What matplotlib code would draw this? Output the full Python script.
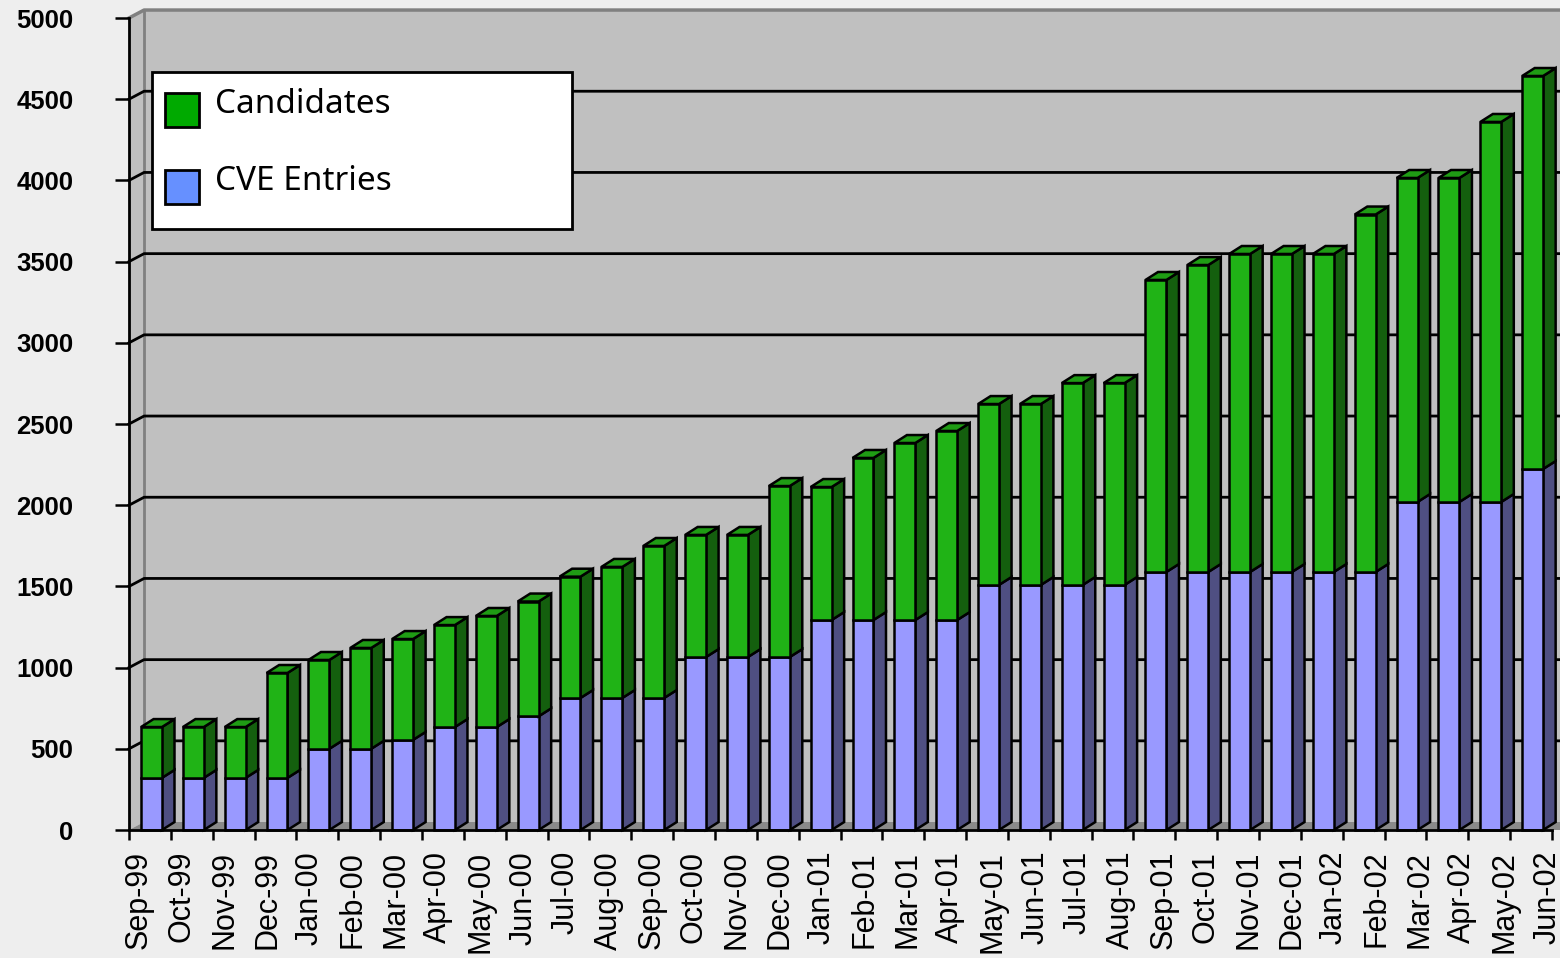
import numpy as np
import matplotlib
matplotlib.use("Agg")
import matplotlib.pyplot as plt
from matplotlib.patches import Polygon, Rectangle

# ── Data ─────────────────────────────────────────────────────
months = ["Sep-99", "Oct-99", "Nov-99", "Dec-99", "Jan-00", "Feb-00", "Mar-00",
          "Apr-00", "May-00", "Jun-00", "Jul-00", "Aug-00", "Sep-00", "Oct-00",
          "Nov-00", "Dec-00", "Jan-01", "Feb-01", "Mar-01", "Apr-01", "May-01",
          "Jun-01", "Jul-01", "Aug-01", "Sep-01", "Oct-01", "Nov-01", "Dec-01",
          "Jan-02", "Feb-02", "Mar-02", "Apr-02", "May-02", "Jun-02"]

cve_entries = [321, 321, 321, 321, 500, 500, 555, 634, 634, 700, 813, 813, 813,
               1065, 1065, 1065, 1293, 1293, 1293, 1293, 1509, 1509, 1509, 1509,
               1589, 1589, 1589, 1589, 1589, 1589, 2020, 2020, 2020, 2223]

totals = [634, 634, 634, 967, 1047, 1121, 1176, 1262, 1318, 1407, 1560, 1620,
          1749, 1817, 1817, 2118, 2112, 2291, 2383, 2457, 2623, 2623, 2752, 2752,
          3387, 3479, 3547, 3547, 3547, 3790, 4015, 4015, 4360, 4643]

candidates = [t - c for t, c in zip(totals, cve_entries)]

yticks = [0, 500, 1000, 1500, 2000, 2500, 3000, 3500, 4000, 4500, 5000]

series_labels = ["Candidates", "CVE Entries"]
legend_colors = ["#00aa00", "#6690ff"]

# ── Style ────────────────────────────────────────────────────
BG = "#eeeeee"
WALL = "#c0c0c0"
FLOOR = "#8a8a8a"
GREEN_FRONT, GREEN_SIDE, GREEN_TOP = "#20b316", "#145f0e", "#1f9c14"
BLUE_FRONT, BLUE_SIDE = "#9999ff", "#4f4f82"

W_DX, W_DY = 0.36, 49      # wall depth (category units, value units)
B_DX, B_DY = 0.30, 49      # bar depth
B_X0, B_W = 0.287, 0.50    # bar front face offset / width in slot

FW, FH = 1560, 958
n = len(months)

fig = plt.figure(figsize=(FW / 100, FH / 100), dpi=100, facecolor=BG)
ax = fig.add_axes([129 / FW, (FH - 830) / FH, (1552 - 129) / FW, (830 - 18) / FH])
ax.set_facecolor("none")
ax.set_xlim(0, n)
ax.set_ylim(0, 5000)


def poly(pts, fc, ec="black", lw=1.8, z=3):
    ax.add_patch(Polygon(pts, closed=True, facecolor=fc, edgecolor=ec,
                         linewidth=lw, zorder=z, clip_on=False))


# walls and floor
xr = n + 1.0
poly([(W_DX, W_DY), (xr, W_DY), (xr, 5000 + W_DY), (W_DX, 5000 + W_DY)],
     WALL, ec="none", z=0)
poly([(0, 0), (W_DX, W_DY), (W_DX, 5000 + W_DY), (0, 5000)], WALL, ec="none", z=0)
poly([(0, 0), (xr, 0), (xr, W_DY), (W_DX, W_DY)], FLOOR, ec="none", z=0.5)
ax.plot([0, W_DX, xr], [5000, 5000 + W_DY, 5000 + W_DY], color="#808080",
        lw=2.5, zorder=1, clip_on=False)
ax.plot([W_DX, W_DX], [W_DY, 5000 + W_DY], color="#808080", lw=2,
        zorder=1, clip_on=False)
for v in yticks[1:-1]:
    ax.plot([0, W_DX, xr], [v, v + W_DY, v + W_DY], color="black", lw=2,
            zorder=1, clip_on=False)


def segment(k, y0, y1, front, side, top=None):
    x0 = k + B_X0
    x1 = x0 + B_W
    poly([(x1, y0), (x1 + B_DX, y0 + B_DY), (x1 + B_DX, y1 + B_DY), (x1, y1)], side)
    if top is not None:
        poly([(x0, y1), (x1, y1), (x1 + B_DX, y1 + B_DY), (x0 + B_DX, y1 + B_DY)], top)
    poly([(x0, y0), (x1, y0), (x1, y1), (x0, y1)], front)


for k in range(n):
    segment(k, 0, cve_entries[k], BLUE_FRONT, BLUE_SIDE)
    segment(k, cve_entries[k], cve_entries[k] + candidates[k],
            GREEN_FRONT, GREEN_SIDE, GREEN_TOP)

# axes
for s in ["top", "right"]:
    ax.spines[s].set_visible(False)
ax.spines["left"].set_linewidth(2)
ax.spines["bottom"].set_linewidth(2)
ax.spines["left"].set_zorder(5)
ax.spines["bottom"].set_zorder(5)

ax.set_yticks(yticks)
ax.set_yticklabels([str(v) for v in yticks], fontsize=18.5, fontweight="bold",
                   family="Liberation Sans")
ax.tick_params(axis="y", length=10, width=1.8, pad=30)

ax.set_xticks(np.arange(n + 1))
ax.set_xticklabels([])
ax.set_xticks(np.arange(n) * 1.0196 + 0.24, minor=True)
ax.set_xticklabels(months, minor=True, rotation=90, fontsize=22,
                   family="Liberation Sans", va="top", ha="center")
ax.tick_params(axis="x", which="major", length=7, width=1.8)
ax.tick_params(axis="x", which="minor", length=0, pad=15)


# legend box (figure pixel layout)
def fx(px):
    return px / FW


def fy(py):
    return 1 - py / FH


fig.add_artist(Rectangle((fx(152), fy(229)), fx(572) - fx(152), fy(72) - fy(229),
                         transform=fig.transFigure, facecolor="white",
                         edgecolor="black", linewidth=2, zorder=10))
for i, (lab, col) in enumerate(zip(series_labels, legend_colors)):
    top = 93 + 77 * i
    fig.add_artist(Rectangle((fx(165), fy(top + 34)), fx(199) - fx(165), fy(top) - fy(top + 34),
                             transform=fig.transFigure, facecolor=col,
                             edgecolor="black", linewidth=2, zorder=11))
    fig.text(fx(215), fy(113 + 77 * i), lab, fontsize=24, family="Noto Sans",
             ha="left", va="baseline", zorder=11)

fig.savefig("out.png", dpi=100, facecolor=BG)
